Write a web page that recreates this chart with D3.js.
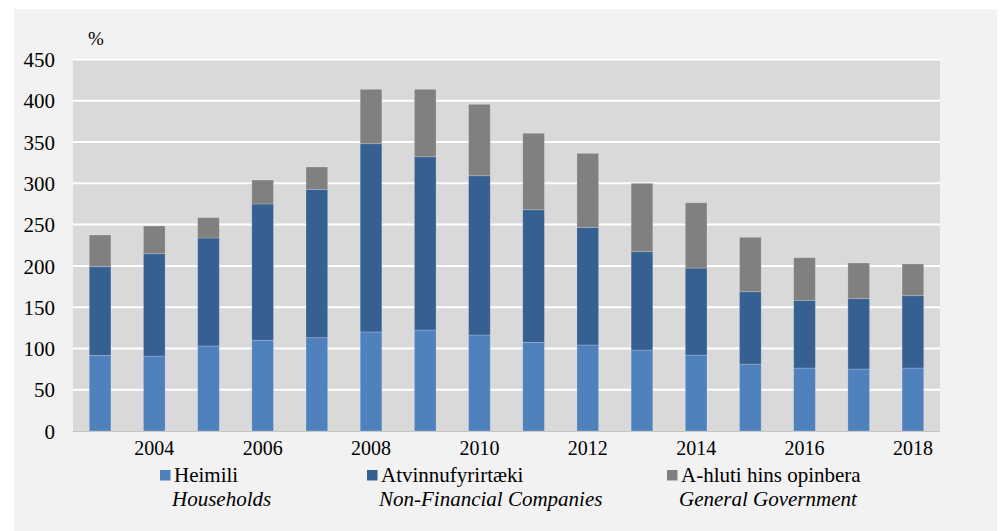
<!DOCTYPE html>
<html>
<head>
<meta charset="utf-8">
<script src="https://cdn.jsdelivr.net/npm/d3@7"></script>
<style>
  html, body { margin: 0; padding: 0; background: #ffffff; }
  svg { display: block; }
  svg text { font-family: "Liberation Serif", "Times New Roman", Tinos, "DejaVu Serif", serif !important; fill: #000; }
</style>
</head>
<body>
<svg id="chart" width="1002" height="531"></svg>
<script>
const years = ["2003","2004","2005","2006","2007","2008","2009","2010","2011","2012","2013","2014","2015","2016","2017","2018"];
const households = [91.7, 90.8, 103, 110, 113, 120, 122.3, 116.3, 107.4, 104.2, 98.1, 92, 81, 76.3, 75.1, 76.3];
const companies  = [107.3, 124, 130.8, 165, 179.7, 228, 209.9, 192.9, 160.6, 142.5, 119.1, 105.4, 87.7, 82, 85.2, 87.6];
const government = [38.4, 33.5, 24.6, 29, 27.1, 65.9, 81.7, 86.5, 92.6, 89.6, 82.8, 79.1, 65.9, 51.6, 43.2, 38.4];
const yTicks = [0, 50, 100, 150, 200, 250, 300, 350, 400, 450];
const xTickLabels = ["2004","2006","2008","2010","2012","2014","2016","2018"];
const seriesKeys = ["hh", "nfc", "gg"];
const legendIs = ["Heimili", "Atvinnufyrirtæki", "A-hluti hins opinbera"];
const legendEn = ["Households", "Non-Financial Companies", "General Government"];
const colors = ["#4f81bd", "#366092", "#808080"];

const rows = years.map((yr, i) => ({ year: yr, hh: households[i], nfc: companies[i], gg: government[i] }));

const svg = d3.select("#chart");
// outer panel
svg.append("rect").attr("x", 14).attr("y", 9).attr("width", 983).attr("height", 522).attr("fill", "#f2f2f2");

const plotL = 73, plotR = 940, plotT = 59.5, plotB = 431;
const x = d3.scaleBand().domain(years).range([plotL, plotR]).paddingInner(0.6).paddingOuter(0.3);
const y = d3.scaleLinear().domain([0, 450]).range([plotB, plotT]);

// plot area
svg.append("rect").attr("x", plotL).attr("y", y(450) - 1).attr("width", plotR - plotL).attr("height", plotB - y(450) + 1).attr("fill", "#d9d9d9");

// gridlines
svg.append("g").selectAll("line").data(yTicks.filter(d => d > 0)).join("line")
  .attr("x1", plotL).attr("x2", plotR)
  .attr("y1", d => y(d)).attr("y2", d => y(d))
  .attr("stroke", "#ffffff").attr("stroke-width", 2);

// bottom axis line
svg.append("line").attr("x1", plotL).attr("x2", plotR).attr("y1", plotB + 0.5).attr("y2", plotB + 0.5)
  .attr("stroke", "#c4c4c4").attr("stroke-width", 1);

// stacked bars
const stacked = d3.stack().keys(seriesKeys)(rows);
svg.append("g").selectAll("g").data(stacked).join("g")
  .attr("fill", (d, i) => colors[i])
  .selectAll("rect").data(d => d).join("rect")
  .attr("x", d => x(d.data.year))
  .attr("width", x.bandwidth())
  .attr("y", d => y(d[1]))
  .attr("height", d => y(d[0]) - y(d[1]))
  .attr("stroke", "rgba(255,255,255,0.25)")
  .attr("stroke-width", 0.8);

// y axis labels
const yAxis = d3.axisLeft(y).tickValues(yTicks).tickSize(0).tickPadding(18);
const yg = svg.append("g").attr("transform", `translate(${plotL},0)`).call(yAxis);
yg.attr("font-family", null).attr("font-size", null);
yg.select(".domain").remove();
yg.selectAll("text").style("font-size", "21px").attr("fill", "#000").attr("dy", "0.34em");

// x axis labels
const xAxis = d3.axisBottom(x).tickValues(xTickLabels).tickSize(0).tickPadding(0);
const xg = svg.append("g").attr("transform", `translate(0,${plotB})`).call(xAxis);
xg.attr("font-family", null).attr("font-size", null);
xg.select(".domain").remove();
xg.selectAll("text").style("font-size", "20px").attr("fill", "#000").attr("dy", null).attr("y", 24);

// unit label
svg.append("text").attr("x", 88).attr("y", 45).style("font-size", "19px").text("%");

// legend
const legendX = [160, 367, 667];
const lg = svg.append("g").selectAll("g").data(seriesKeys).join("g")
  .attr("transform", (d, i) => `translate(${legendX[i]},0)`);
lg.append("rect").attr("x", 0).attr("y", 470).attr("width", 10.5).attr("height", 10.5).attr("fill", (d, i) => colors[i]);
lg.append("text").attr("x", 14).attr("y", 482).style("font-size", "21px").text((d, i) => legendIs[i]);
lg.append("text").attr("x", 12).attr("y", 506).style("font-size", "21px").style("font-style", "italic").text((d, i) => legendEn[i]);
</script>
</body>
</html>
